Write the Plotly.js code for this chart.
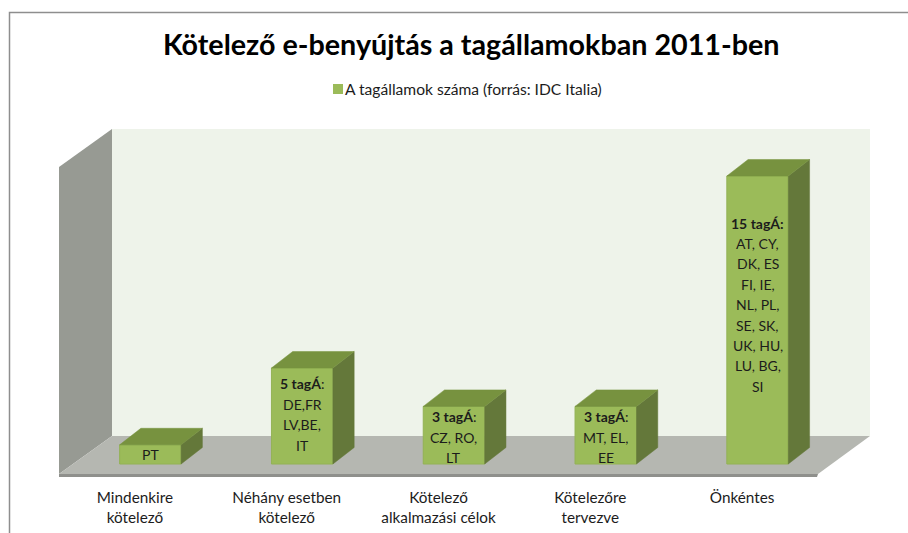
<!DOCTYPE html>
<html>
<head>
<meta charset="utf-8">
<script src="https://cdn.plot.ly/plotly-3.0.1.min.js"></script>
<style>html,body{margin:0;padding:0;background:#fff;overflow:hidden}</style>
</head>
<body>
<div id="chart" style="width:908px;height:533px"></div>
<script>
const categories = ["Mindenkire<br>kötelező", "Néhány esetben<br>kötelező", "Kötelező<br>alkalmazási célok", "Kötelezőre<br>tervezve", "Önkéntes"];
const values = [1, 5, 3, 3, 15];
const seriesName = "A tagállamok száma (forrás: IDC Italia)";
const barLabels = [
  ["PT"],
  ["<b>5 tagÁ</b>:", "DE,FR", "LV,BE,", "IT"],
  ["<b>3 tagÁ</b>:", "CZ, RO,", "LT"],
  ["<b>3 tagÁ</b>:", "MT, EL,", "EE"],
  ["<b>15 tagÁ:</b>", "AT, CY,", "DK, ES", "FI, IE,", "NL, PL,", "SE, SK,", "UK, HU,", "LU, BG,", "SI"]
];
const labelTop = [0.47, 4.17, 2.45, 2.45, 12.55];   // value level of each bar's first text line

const W = 908, H = 533;
const plot = {l: 59, r: 870, t: 129, b: 474};
const unitX = 151.8, unitY = 19.2;
const xMin = -0.5, xMax = xMin + (plot.r - plot.l) / unitX;
const yMin = -(plot.b - 464) / unitY, yMax = yMin + (plot.b - plot.t) / unitY;
const px = v => (v - plot.l) / (plot.r - plot.l);
const py = v => (plot.b - v) / (plot.b - plot.t);
const poly = pts => "M" + pts.map(p => px(p[0]) + "," + py(p[1])).join("L") + "Z";
const area = (pts, fill) => ({type: "path", xref: "paper", yref: "paper", layer: "below", path: poly(pts), fillcolor: fill, line: {width: 0}});

const shift = 0.102, barW = 0.405, depthX = 0.14, depthY = 0.86;
const xs = values.map((_, i) => i + shift);
const tr = {x: [], y: []}, sd = {x: [], y: []};
values.forEach((v, i) => {
  const a = xs[i] - barW / 2, b = xs[i] + barW / 2;
  tr.x.push(a, a + depthX, b + depthX, b, a, null);
  tr.y.push(v, v + depthY, v + depthY, v, v, null);
  sd.x.push(b, b + depthX, b + depthX, b, b, null);
  sd.y.push(0, depthY, v + depthY, v, 0, null);
});
const face = (d, color) => ({x: d.x, y: d.y, type: "scatter", mode: "lines", fill: "toself", fillcolor: color, line: {width: 0.5, color: color}, hoverinfo: "skip", showlegend: false});

const traces = [
  face(sd, "#64783a"),
  face(tr, "#77923f"),
  {x: xs, y: values, type: "bar", width: barW, name: seriesName, showlegend: false, marker: {color: "#9bbb59", line: {color: "#93b255", width: 1}}}
];

const textFont = {family: "Lato, sans-serif", size: 14, color: "#1c1c1c"};
const annotations = [
  {xref: "paper", yref: "paper", x: px(471), y: py(44), text: "<b>Kötelező e-benyújtás a tagállamokban 2011-ben</b>", showarrow: false, xanchor: "center", yanchor: "middle", font: {family: "Lato, sans-serif", size: 28.7, color: "#000"}},
  {xref: "paper", yref: "paper", x: px(343), y: py(89), text: seriesName, showarrow: false, xanchor: "left", yanchor: "middle", font: {family: "Lato, sans-serif", size: 15.6, color: "#1c1c1c"}}
];
barLabels.forEach((lines, i) => lines.forEach((t, k) => annotations.push({
  x: xs[i], y: labelTop[i], yshift: -k * 20.4, text: t, showarrow: false, xanchor: "center", yanchor: "middle", font: textFont
})));

const shapes = [
  area([[112, 129], [870, 129], [870, 436], [112, 436]], "#eef3ea"),
  area([[59, 167], [112, 129], [112, 436], [59, 474]], "#979a93"),
  area([[59, 474], [112, 436], [870, 436], [818, 474]], "#b5b7b1"),
  area([[59, 474], [818, 474], [817, 477], [59, 477]], "#8f908c"),
  area([[333, 84], [343, 84], [343, 94], [333, 94]], "#9bbb59"),
  {type: "path", xref: "paper", yref: "paper", layer: "below", path: "M" + px(9.5) + "," + py(533) + "L" + px(9.5) + "," + py(12.5) + "L" + px(908) + "," + py(12.5), line: {color: "#8e8e8e", width: 1.5}}
];

const layout = {
  width: W, height: H,
  margin: {l: plot.l, r: W - plot.r, t: plot.t, b: H - plot.b, pad: 0},
  paper_bgcolor: "#fff", plot_bgcolor: "rgba(0,0,0,0)",
  showlegend: false,
  xaxis: {type: "linear", range: [xMin, xMax], tickmode: "array", tickvals: values.map((_, i) => i), ticktext: categories,
    showgrid: false, zeroline: false, showline: false, ticks: "outside", ticklen: 10, tickcolor: "rgba(0,0,0,0)", tickangle: 0,
    tickfont: {family: "Lato, sans-serif", size: 15.3, color: "#1c1c1c"}},
  yaxis: {range: [yMin, yMax], visible: false, showgrid: false, zeroline: false},
  shapes, annotations
};
Plotly.newPlot("chart", traces, layout, {displayModeBar: false, staticPlot: true});
</script>
</body>
</html>
